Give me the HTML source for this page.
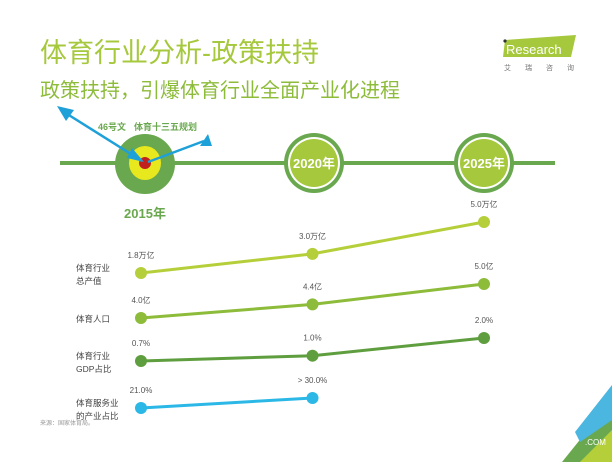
<!DOCTYPE html>
<html><head><meta charset="utf-8"><style>
body{margin:0;width:612px;height:462px;background:#fff;overflow:hidden;font-family:"Liberation Sans","Noto Sans CJK SC",sans-serif;}
svg text{font-family:"Liberation Sans","Noto Sans CJK SC",sans-serif;}
</style></head><body>
<svg width="612" height="462">
<text x="40" y="62" font-size="27" fill="#a5c83c">体育行业分析-政策扶持</text>
<text x="40" y="97" font-size="20" fill="#8dbb3a">政策扶持，引爆体育行业全面产业化进程</text>
<g>
<polygon points="505,40 576,35 571,57 503,57" fill="#a5c83c"/>
<circle cx="505" cy="41" r="1.6" fill="#333"/>
<text x="506" y="54" font-size="13" fill="#fff">Research</text>
<text x="504" y="70" font-size="7" fill="#777" letter-spacing="14">艾瑞咨询</text>
</g>
<line x1="60" y1="163" x2="555" y2="163" stroke="#6aa84f" stroke-width="4"/>
<g>
<circle cx="145" cy="164" r="30" fill="#6aa84f"/>
<ellipse cx="145" cy="163" rx="16" ry="17" fill="#e8e81e"/>
<circle cx="145" cy="163" r="6" fill="#c0201e"/>
<line x1="64" y1="112" x2="142" y2="161" stroke="#1ea0d8" stroke-width="2.5"/>
<path d="M57,106 L74,110 L66,121 Z" fill="#1ea0d8"/>
<path d="M132,148 L144,162 L127,158 Z" fill="#1ea0d8"/>
<line x1="204" y1="141" x2="148" y2="162" stroke="#1ea0d8" stroke-width="2.5"/>
<path d="M208,134 L200,146 L212,146 Z" fill="#1ea0d8"/>
<text x="98" y="130" font-size="9" font-weight="bold" fill="#6aa84f">46号文</text>
<text x="134" y="130" font-size="9" font-weight="bold" fill="#6aa84f">体育十三五规划</text>
<text x="145" y="218" font-size="13" font-weight="bold" fill="#6aa84f" text-anchor="middle">2015年</text>
</g>
<g>
<circle cx="314" cy="163" r="30" fill="#6aa84f"/>
<circle cx="314" cy="163" r="26" fill="#fff"/>
<circle cx="314" cy="163" r="24" fill="#a5c83c"/>
<text x="314" y="168" font-size="13" font-weight="bold" fill="#fff" text-anchor="middle">2020年</text>
</g>
<g>
<circle cx="484" cy="163" r="30" fill="#6aa84f"/>
<circle cx="484" cy="163" r="26" fill="#fff"/>
<circle cx="484" cy="163" r="24" fill="#a5c83c"/>
<text x="484" y="168" font-size="13" font-weight="bold" fill="#fff" text-anchor="middle">2025年</text>
</g>
<g id="rows"></g>
<text x="40" y="425" font-size="6" fill="#999">来源：国家体育局。</text>
<g>
<polygon points="612,400 612,462 562,462" fill="#6aa84f"/>
<polygon points="612,430 612,462 580,462" fill="#b5cf3a"/>
<polygon points="612,385 612,420 580,442 575,432" fill="#4bb6e0"/>
<text x="585" y="445" font-size="8" fill="#fff">.COM</text>
</g>
</svg>
<script>
const years=["2015","2020","2025"];
const s1=[1.8,3.0,5.0], l1=["1.8万亿","3.0万亿","5.0万亿"];
const s2=[4.0,4.4,5.0], l2=["4.0亿","4.4亿","5.0亿"];
const s3=[0.7,1.0,2.0], l3=["0.7%","1.0%","2.0%"];
const s4=[21.0,30.0], l4=["21.0%","> 30.0%"];
const names=[["体育行业","总产值"],["体育人口"],["体育行业","GDP占比"],["体育服务业","的产业占比"]];
const colors=["#b5cf3a","#8dbb3a","#5f9e3f","#2bb8e6"];
const rows=[{v:s1,l:l1,y0:273,y1:222,lo:1.8,hi:5.0},{v:s2,l:l2,y0:318,y1:284,lo:4.0,hi:5.0},{v:s3,l:l3,y0:361,y1:338,lo:0.7,hi:2.0},{v:s4,l:l4,y0:408,y1:398,lo:21,hi:30}];
const xs=i=>141+i*171.5;
const g=document.getElementById('rows');const NS="http://www.w3.org/2000/svg";
rows.forEach((r,ri)=>{
 const ys=v=>r.y0+(v-r.lo)/(r.hi-r.lo)*(r.y1-r.y0);
 const pl=document.createElementNS(NS,'polyline');
 pl.setAttribute('points',r.v.map((v,i)=>xs(i)+','+ys(v)).join(' '));
 pl.setAttribute('fill','none');pl.setAttribute('stroke',colors[ri]);pl.setAttribute('stroke-width','3');
 
 
 g.appendChild(pl);
 r.v.forEach((v,i)=>{
  const c=document.createElementNS(NS,'circle');
  c.setAttribute('cx',xs(i));c.setAttribute('cy',ys(v));c.setAttribute('r','6');c.setAttribute('fill',colors[ri]);
  
  
  g.appendChild(c);
  const t=document.createElementNS(NS,'text');
  t.setAttribute('x',xs(i));t.setAttribute('y',ys(v)-15);t.setAttribute('font-size','8');t.setAttribute('fill','#555');t.setAttribute('text-anchor','middle');
  t.textContent=r.l[i];
  
  
  g.appendChild(t);
 });
 const ny=r.y0+4-(names[ri].length-1)*6;
 names[ri].forEach((n,k)=>{
  const t=document.createElementNS(NS,'text');
  t.setAttribute('x',76);t.setAttribute('y',ny+k*13);t.setAttribute('font-size','8.5');t.setAttribute('fill','#444');
  t.textContent=n;
  
  
  g.appendChild(t);
 });
});
</script>
</body></html>
